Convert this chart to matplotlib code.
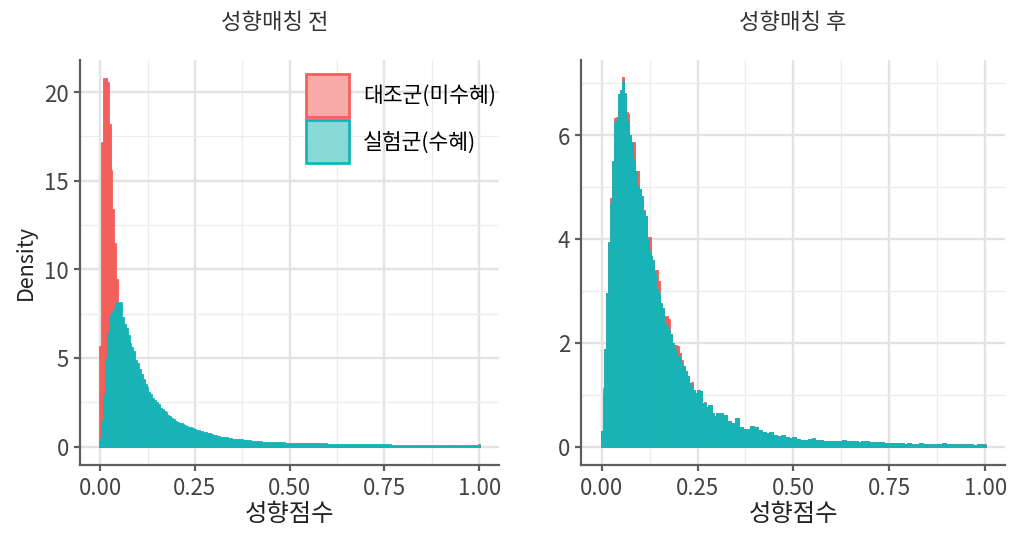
import numpy as np
import matplotlib
matplotlib.use('Agg')
import matplotlib.pyplot as plt
from matplotlib.patches import Patch
from matplotlib.ticker import MultipleLocator, FormatStrFormatter

plt.rcParams['font.family'] = ['Noto Sans CJK KR', 'DejaVu Sans']

# 히스토그램 구간: 0~0.3 은 0.005 폭, 0.3~1.0 은 0.01 폭, 마지막 1.0 구간
bin_fine = 0.005
bin_coarse = 0.01

titles = ['성향매칭 전', '성향매칭 후']
labels = ['대조군(미수혜)', '실험군(수혜)']
x_label = '성향점수'
y_label = 'Density'

# 매칭 전 - 대조군
before_ctrl = [
    5.7, 17.2, 20.8, 20.8, 20.6, 18.2, 15.6, 13.4, 11.5, 9.45,
    7.8, 6.5, 5.4, 4.5, 3.7, 3.1, 2.6, 2.2, 1.9, 1.6,
    1.4, 1.2, 1.05, 0.9, 0.8, 0.7, 0.62, 0.55, 0.5, 0.45,
    0.4, 0.37, 0.34, 0.31, 0.28, 0.26, 0.24, 0.22, 0.2, 0.19,
    0.18, 0.17, 0.16, 0.15, 0.14, 0.13, 0.12, 0.12, 0.11, 0.11,
    0.1, 0.1, 0.09, 0.09, 0.09, 0.08, 0.08, 0.08, 0.07, 0.07,
    # 0.01 폭
    0.12, 0.11, 0.11, 0.1, 0.1, 0.1, 0.09, 0.09, 0.09, 0.09,
    0.08, 0.08, 0.08, 0.08, 0.08, 0.07, 0.07, 0.07, 0.07, 0.07,
    0.07, 0.06, 0.06, 0.06, 0.06, 0.06, 0.06, 0.06, 0.05, 0.05,
    0.05, 0.05, 0.05, 0.05, 0.05, 0.05, 0.05, 0.04, 0.04, 0.04,
    0.04, 0.04, 0.04, 0.04, 0.04, 0.04, 0.04, 0.04, 0.04, 0.04,
    0.04, 0.04, 0.03, 0.03, 0.03, 0.03, 0.03, 0.03, 0.03, 0.03,
    0.03, 0.03, 0.03, 0.03, 0.03, 0.03, 0.03, 0.03, 0.03, 0.03,
    0.12,
]
# 매칭 전 - 실험군
before_trt = [
    0.45, 1.5, 2.9, 5.0, 6.4, 7.4, 7.5, 7.6, 7.9, 8.15,
    8.15, 8.15, 7.3, 6.9, 6.7, 6.3, 5.85, 5.6, 5.4, 4.9,
    4.7, 4.4, 4.1, 3.8, 3.55, 3.35, 3.1, 2.95, 2.75, 2.6,
    2.5, 2.4, 2.2, 2.1, 2.0, 1.95, 1.8, 1.7, 1.6, 1.55,
    1.45, 1.4, 1.35, 1.3, 1.25, 1.2, 1.15, 1.12, 1.1, 1.05,
    1.0, 0.95, 0.92, 0.9, 0.86, 0.82, 0.8, 0.78, 0.76, 0.72,
    # 0.01 폭
    0.66, 0.6, 0.56, 0.52, 0.48, 0.45, 0.42, 0.4, 0.38, 0.36,
    0.33, 0.31, 0.29, 0.28, 0.27, 0.28, 0.25, 0.24, 0.23, 0.22,
    0.21, 0.2, 0.2, 0.19, 0.19, 0.18, 0.18, 0.18, 0.17, 0.17,
    0.16, 0.16, 0.16, 0.15, 0.15, 0.15, 0.15, 0.14, 0.14, 0.14,
    0.13, 0.13, 0.13, 0.12, 0.12, 0.12, 0.12, 0.11, 0.11, 0.11,
    0.11, 0.1, 0.1, 0.1, 0.1, 0.1, 0.09, 0.09, 0.09, 0.09,
    0.09, 0.08, 0.08, 0.08, 0.08, 0.08, 0.08, 0.07, 0.07, 0.07,
    0.06,
]
# 매칭 후 - 대조군
after_ctrl = [
    0.29, 1.13, 1.88, 2.96, 3.94, 4.78, 5.5, 6.32, 6.35, 6.8,
    6.87, 7.12, 6.82, 6.45, 6.4, 6.0, 5.86, 5.86, 5.31, 5.31,
    4.96, 4.83, 4.56, 4.45, 4.03, 4.03, 3.67, 3.6, 3.41, 3.41,
    3.19, 2.77, 2.67, 2.51, 2.51, 2.45, 2.16, 2.0, 1.96, 1.96,
    1.93, 1.8, 1.66, 1.55, 1.45, 1.35, 1.22, 1.25, 1.09, 1.03,
    1.09, 1.09, 1.06, 0.84, 0.86, 0.77, 0.8, 0.8, 0.64, 0.58,
    # 0.01 폭
    0.64, 0.64, 0.6, 0.5, 0.45, 0.55, 0.38, 0.34, 0.33, 0.4,
    0.38, 0.32, 0.27, 0.26, 0.27, 0.22, 0.2, 0.22, 0.19, 0.16,
    0.19, 0.15, 0.13, 0.13, 0.15, 0.16, 0.12, 0.12, 0.11, 0.1,
    0.1, 0.1, 0.11, 0.12, 0.1, 0.1, 0.1, 0.09, 0.11, 0.1,
    0.09, 0.08, 0.08, 0.08, 0.07, 0.07, 0.07, 0.06, 0.07, 0.05,
    0.06, 0.05, 0.05, 0.06, 0.05, 0.05, 0.04, 0.05, 0.05, 0.06,
    0.05, 0.05, 0.04, 0.04, 0.04, 0.04, 0.04, 0.03, 0.04, 0.04,
    0.05,
]
# 매칭 후 - 실험군
after_trt = [
    0.29, 1.0, 1.88, 2.96, 3.94, 4.7, 5.5, 6.25, 6.3, 6.8,
    6.87, 7.05, 6.82, 6.27, 6.25, 6.0, 5.86, 5.54, 5.31, 5.02,
    4.96, 4.83, 4.51, 4.45, 4.0, 3.76, 3.67, 3.6, 3.35, 3.03,
    2.96, 2.77, 2.67, 2.38, 2.32, 2.25, 2.16, 2.0, 1.96, 1.87,
    1.74, 1.74, 1.61, 1.55, 1.45, 1.35, 1.22, 1.16, 1.09, 1.03,
    1.09, 1.09, 1.06, 0.84, 0.84, 0.77, 0.8, 0.8, 0.64, 0.58,
    # 0.01 폭
    0.64, 0.64, 0.6, 0.5, 0.45, 0.55, 0.38, 0.34, 0.33, 0.4,
    0.38, 0.32, 0.27, 0.26, 0.27, 0.22, 0.2, 0.22, 0.19, 0.16,
    0.19, 0.15, 0.13, 0.13, 0.15, 0.16, 0.12, 0.12, 0.11, 0.1,
    0.1, 0.1, 0.11, 0.12, 0.1, 0.1, 0.1, 0.09, 0.11, 0.1,
    0.09, 0.08, 0.08, 0.08, 0.07, 0.07, 0.07, 0.06, 0.07, 0.05,
    0.06, 0.05, 0.05, 0.06, 0.05, 0.05, 0.04, 0.05, 0.05, 0.06,
    0.05, 0.05, 0.04, 0.04, 0.04, 0.04, 0.04, 0.03, 0.04, 0.04,
    0.03,
]

edges = np.concatenate([
    np.arange(61) * bin_fine - bin_fine / 2,
    0.2975 + np.arange(1, 71) * bin_coarse,
    [1.0 + bin_fine / 2],
])
widths = np.diff(edges)

red = '#F35F5B'
teal = '#18B3B6'
axis_col = '#5E5E5E'


def hist_bars(ax, vals, color, z):
    # ggplot 처럼 막대 테두리를 같은 색으로 칠해서 막대 사이 틈을 없앰
    ax.bar(edges[:-1], vals, width=widths, align='edge', color=color,
           edgecolor=color, linewidth=0.6, zorder=z)


# 10.17*100 은 1016.99.. 로 잘리므로 살짝 크게
fig = plt.figure(figsize=(10.175, 5.345), dpi=100)
ax1 = fig.add_axes([80 / 1017, 69 / 534, 419 / 1017, 405 / 534])
ax2 = fig.add_axes([581 / 1017, 69 / 534, 424 / 1017, 405 / 534])

panels = [
    (ax1, before_ctrl, before_trt, (-1.04, 21.84), 5, 2.5),
    (ax2, after_ctrl, after_trt, (-0.355, 7.455), 2, 1),
]
for ax, ctrl, trt, ylim, major, minor in panels:
    hist_bars(ax, ctrl, red, 2)
    hist_bars(ax, trt, teal, 3)
    ax.set_xlim(-0.053, 1.053)
    ax.set_ylim(*ylim)
    ax.xaxis.set_major_locator(MultipleLocator(0.25))
    ax.xaxis.set_minor_locator(MultipleLocator(0.125))
    ax.xaxis.set_major_formatter(FormatStrFormatter('%.2f'))
    ax.yaxis.set_major_locator(MultipleLocator(major))
    ax.yaxis.set_minor_locator(MultipleLocator(minor))
    ax.grid(which='major', color='#E3E3E3', lw=1.7, zorder=0)
    ax.grid(which='minor', color='#ECECEC', lw=0.9, zorder=0)
    ax.set_axisbelow(True)
    for s in ['top', 'right']:
        ax.spines[s].set_visible(False)
    for s in ['left', 'bottom']:
        ax.spines[s].set_color(axis_col)
        ax.spines[s].set_linewidth(1.6)
    ax.tick_params(which='major', direction='out', length=4, width=1.6,
                   color=axis_col, labelcolor='#444444', labelsize=16, pad=4)
    ax.tick_params(which='minor', length=0)
    ax.set_xlabel(x_label, fontsize=17.5, color='#222222', labelpad=1)

ax1.set_ylabel(y_label, fontsize=15.5, color='#222222', labelpad=5)

fig.text(275 / 1017, 1 - 22 / 534, titles[0], ha='center', va='center',
         fontsize=16, color='#333333')
fig.text(792 / 1017, 1 - 22 / 534, titles[1], ha='center', va='center',
         fontsize=16, color='#333333')

handles = [
    Patch(facecolor='#F7AAA8', edgecolor=red, lw=2),
    Patch(facecolor='#8AD9D9', edgecolor=teal, lw=2),
]
ax1.legend(handles, labels, loc='upper left',
           bbox_to_anchor=(306 / 1017, 1 - 74 / 534),
           bbox_transform=fig.transFigure, frameon=False, fontsize=15.5,
           handlelength=2.0, handleheight=2.7, handletextpad=0.65,
           labelspacing=0.15, borderpad=0, borderaxespad=0)

fig.savefig('out.png', dpi=100)
